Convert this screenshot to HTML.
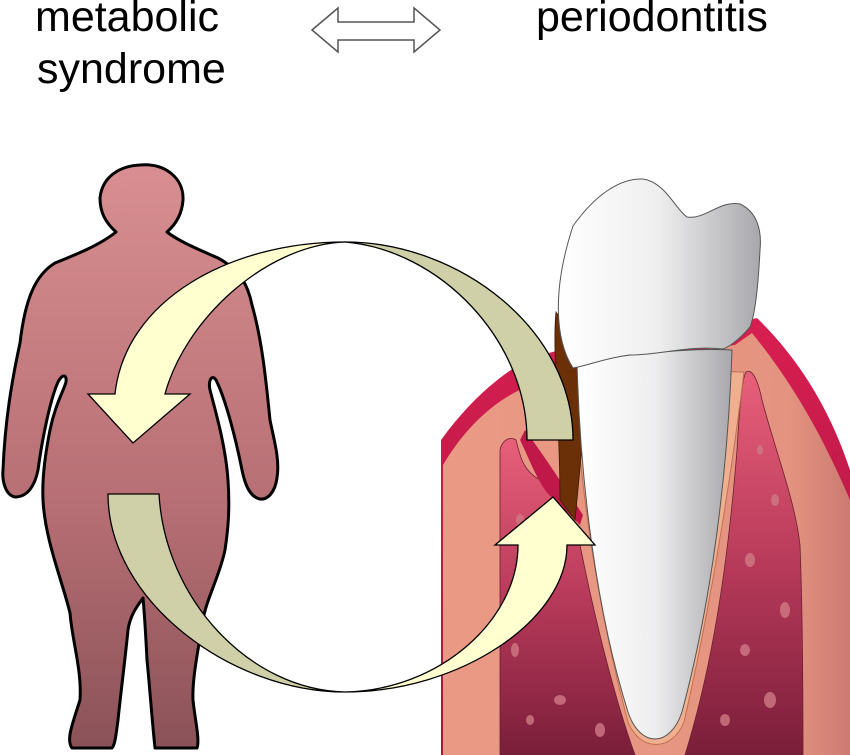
<!DOCTYPE html>
<html><head><meta charset="utf-8"><style>
html,body{margin:0;padding:0;background:#fff;}
svg{display:block;}
text{font-family:"Liberation Sans",sans-serif;fill:#000;}
</style></head><body>
<svg width="850" height="755" viewBox="0 0 850 755" xmlns="http://www.w3.org/2000/svg">
<defs>
<linearGradient id="body" x1="0" y1="0" x2="0" y2="1">
<stop offset="0" stop-color="#d98f91"/><stop offset="0.6" stop-color="#b56e73"/><stop offset="1" stop-color="#8a5258"/>
</linearGradient>
<linearGradient id="bone" x1="0" y1="0" x2="0" y2="1">
<stop offset="0" stop-color="#e8607a"/><stop offset="0.5" stop-color="#b83a5a"/><stop offset="1" stop-color="#7a1e3a"/>
</linearGradient>
<linearGradient id="gum" x1="0" y1="0" x2="0" y2="1">
<stop offset="0" stop-color="#d81e50"/><stop offset="1" stop-color="#a01842"/>
</linearGradient>
<linearGradient id="tooth" x1="0" y1="0" x2="1" y2="0">
<stop offset="0" stop-color="#ffffff"/><stop offset="0.5" stop-color="#eeeeef"/><stop offset="1" stop-color="#a8a8ac"/>
</linearGradient>
<linearGradient id="salmon" x1="0" y1="0" x2="1" y2="0">
<stop offset="0" stop-color="#ea9a84"/><stop offset="0.85" stop-color="#e49380"/><stop offset="1" stop-color="#cc7a72"/>
</linearGradient>
</defs>

<text x="35" y="31" font-size="43">metabolic</text>
<text x="37" y="83" font-size="43">syndrome</text>
<text x="536" y="31" font-size="43">periodontitis</text>
<path d="M312,30 L338,8 L338,22 L414,22 L414,8 L440,30 L414,52 L414,40 L338,40 L338,52 Z" fill="#fff" stroke="#555" stroke-width="1.5"/>

<!-- periodontium -->
<path d="M441,755 L441,440 C470,400 500,375 530,358 L560,350 L740,322 L757,318 C800,360 830,410 850,470 L850,755 Z" fill="url(#gum)"/>
<path d="M443,755 L443,465 C470,420 500,398 530,385 L560,370 L735,345 L752,333 C790,380 820,430 850,500 L850,755 Z" fill="url(#salmon)"/>
<path d="M500,755 L500,450 C502,440 510,436 516,440 C520,455 522,470 540,480 C555,495 570,520 580,545 C595,620 615,700 635,755 Z" fill="url(#bone)" stroke="#6a2030" stroke-width="0.8"/>
<path d="M685,755 C705,690 725,600 737,450 C740,400 742,380 746,372 C752,368 758,380 762,400 C775,450 795,500 800,545 C803,620 803,700 803,755 Z" fill="url(#bone)" stroke="#6a2030" stroke-width="0.8"/>
<g fill="#d07a86" opacity="0.8">
<ellipse cx="520" cy="520" rx="4" ry="6"/><ellipse cx="540" cy="600" rx="5" ry="8"/><ellipse cx="515" cy="650" rx="4" ry="7"/><ellipse cx="560" cy="700" rx="6" ry="5"/><ellipse cx="600" cy="730" rx="5" ry="7"/><ellipse cx="530" cy="720" rx="4" ry="5"/>
<ellipse cx="760" cy="450" rx="3" ry="5"/><ellipse cx="775" cy="500" rx="4" ry="6"/><ellipse cx="750" cy="560" rx="5" ry="7"/><ellipse cx="785" cy="610" rx="5" ry="8"/><ellipse cx="745" cy="650" rx="5" ry="6"/><ellipse cx="770" cy="700" rx="6" ry="8"/><ellipse cx="725" cy="720" rx="5" ry="6"/>
</g>
<path d="M574,368 C578,480 598,610 628,722 C640,752 672,752 684,722 C712,600 732,470 744,372 Z" fill="#f0b090" stroke="#c07050" stroke-width="1"/>
<path d="M520,440 C530,460 540,490 555,500 L580,525 L583,515 C560,480 540,450 525,430 Z" fill="#c01848"/>
<path d="M556,312 C552,350 560,420 560,500 L575,520 C580,470 585,420 585,370 C575,345 565,325 556,312 Z" fill="#6b3008" stroke="#3a1a00" stroke-width="0.8"/>
<!-- tooth -->
<path d="M577,362 C580,480 596,610 628,712 C640,748 670,748 682,712 C712,600 728,470 732,350 C700,348 660,352 630,355 C605,358 590,362 577,362 Z" fill="url(#tooth)" stroke="#555" stroke-width="1"/>
<path d="M573,368 C555,340 552,290 573,226 C595,195 620,178 643,179 C665,182 676,210 687,217 C705,220 720,200 740,204 C757,212 762,230 760,250 C758,290 755,315 750,327 C735,345 723,349 723,349 C690,345 660,355 630,355 C605,358 590,365 573,368 Z" fill="url(#tooth)" stroke="#555" stroke-width="1"/>

<!-- body -->
<path d="M140,165 C165,163 184,178 183,200 C182,215 175,225 167,232 C180,242 200,250 218,258 C240,270 248,285 252,305 C262,340 266,380 270,420 C274,440 280,460 277,478 C275,492 268,500 260,499 C250,497 245,485 242,470 C236,440 226,400 216,380 C212,374 208,380 210,390 C218,420 226,450 228,480 C230,510 228,530 225,550 C220,575 206,600 203,620 C198,650 192,680 193,700 C195,720 200,740 197,748 L155,748 C152,720 150,690 147,660 C146,640 145,620 143,598 C138,605 130,615 128,630 C125,660 120,700 118,720 C116,735 115,745 112,748 L72,748 C66,740 72,725 80,700 C82,670 72,640 70,613 C62,580 45,540 43,500 C42,480 45,455 50,430 C55,405 64,390 66,382 C67,374 62,374 58,382 C50,400 42,440 38,470 C35,485 28,497 15,497 C5,495 2,480 3,470 C5,420 12,380 20,343 C25,300 35,275 55,263 C75,255 100,245 116,232 C105,222 100,212 100,198 C102,178 118,166 140,165 Z" fill="url(#body)" stroke="#000" stroke-width="3" stroke-linejoin="round"/>

<!-- arrows -->
<g stroke="#000" stroke-width="1.3" stroke-linejoin="miter">
<path d="M573,440 C573,330 460,242 345,242 C440,250 527,340 527,440 Z" fill="#d0d0a8"/>
<path d="M345,242 C230,242 125,300 115,394 L88,394 L133,443 L190,394 L165,394 C185,320 265,245 345,242 Z" fill="#ffffcf"/>
<path d="M108,494 C108,600 230,692 345,692 C250,690 165,600 159,494 Z" fill="#d0d0a8"/>
<path d="M345,692 C460,692 567,620 567,545 L595,545 L553,497 L495,545 L518,545 C518,620 440,690 345,692 Z" fill="#ffffcf"/>
</g>
</svg>
</body></html>
